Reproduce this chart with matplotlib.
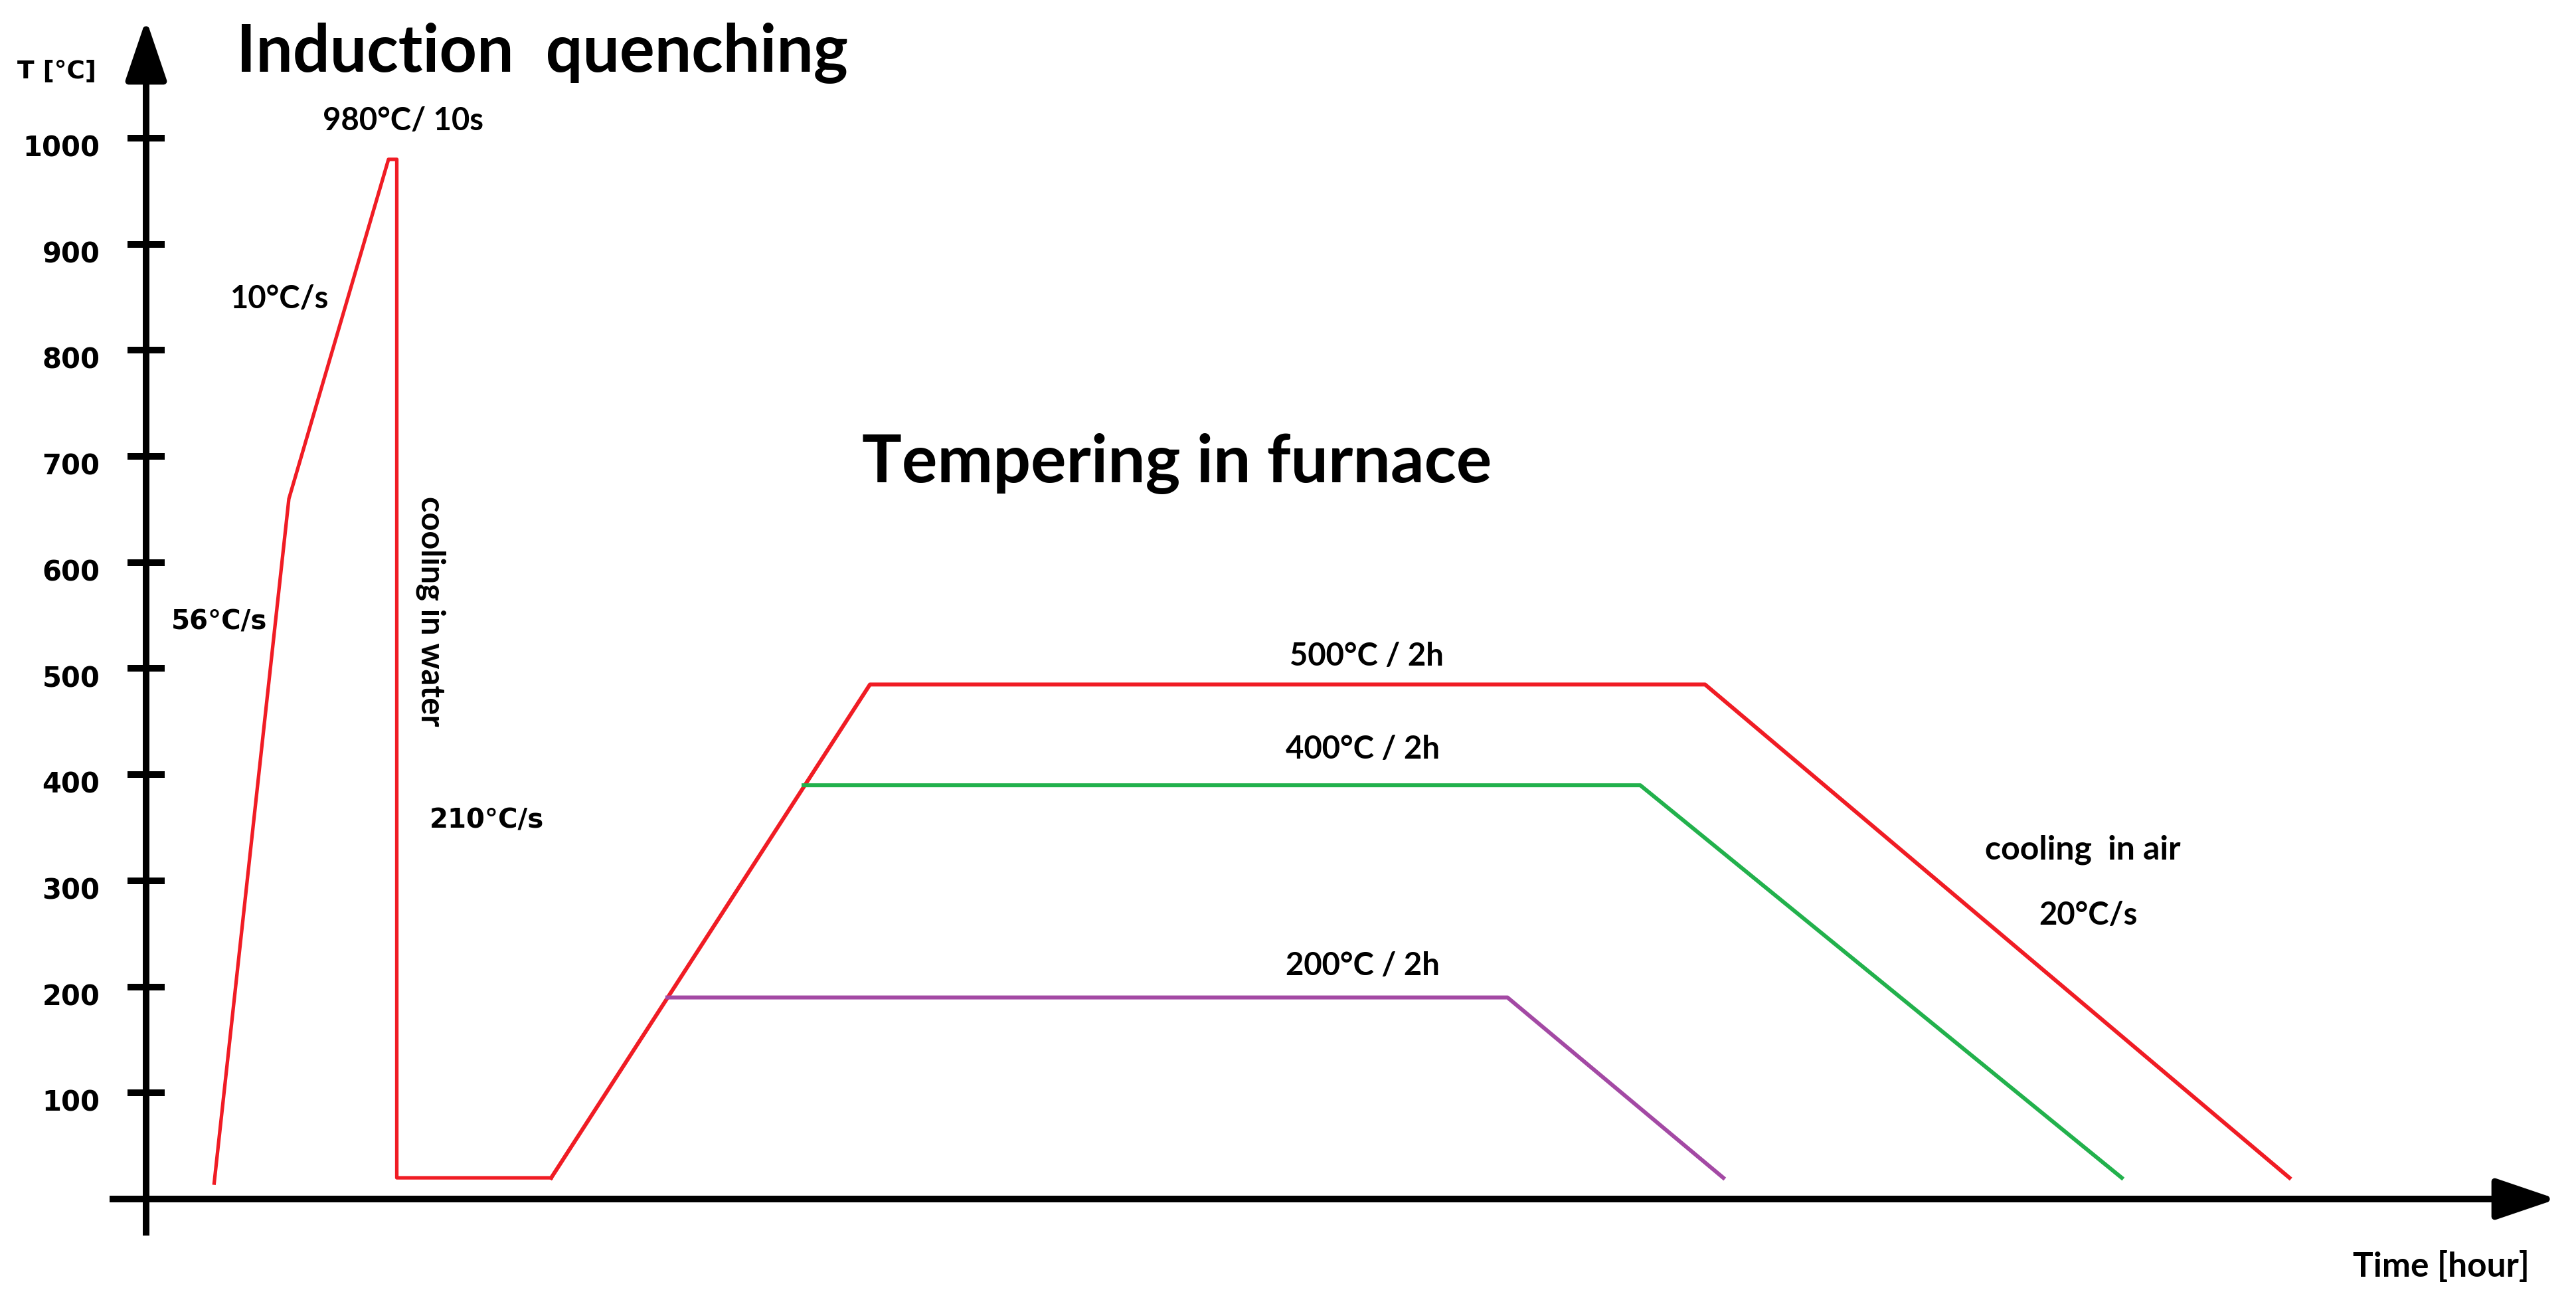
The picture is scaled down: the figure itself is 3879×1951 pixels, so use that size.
import matplotlib
matplotlib.use('Agg')
import matplotlib.pyplot as plt
from matplotlib.transforms import ScaledTranslation

# schematic heat treatment: time in arbitrary units, temperature in °C
quench_t = [0.41, 0.86, 1.46, 1.51, 1.51, 2.44, 4.36, 9.39, 12.91]
quench_T = [15, 660, 980, 980, 20, 20, 485, 485, 20]

green_t = [3.96, 9.0, 11.9]
green_T = [390, 390, 20]

purple_t = [3.14, 8.2, 9.5]
purple_T = [190, 190, 20]

yticks = [100, 200, 300, 400, 500, 600, 700, 800, 900, 1000]

W, H = 3880, 1951
fig = plt.figure(figsize=(W / 100, H / 100), dpi=100)
ax = fig.add_axes([0, 0, 1, 1])
ax.set_xlim(-0.88, 14.64)
ax.set_ylim(-91.4, 1130.2)
ax.set_facecolor('white')

red = '#f01c24'
ax.plot(quench_t[:6], quench_T[:6], color=red, lw=3.8)
ax.plot(quench_t[5:], quench_T[5:], color=red, lw=4.3)
ax.plot(green_t, green_T, color='#22b14c', lw=4.3)
ax.plot(purple_t, purple_T, color='#a349a4', lw=4.3)

# axes through the origin
ax.spines['top'].set_visible(False)
ax.spines['right'].set_visible(False)
ax.spines['left'].set_position(('data', 0))
ax.spines['bottom'].set_position(('data', 0))
ax.spines['left'].set_bounds(-31, 1080)
ax.spines['bottom'].set_bounds(-0.2, 14.3)
for s in ['left', 'bottom']:
    ax.spines[s].set_linewidth(7.2)
    ax.spines[s].set_zorder(5)

ax.set_xticks([])
ax.set_yticks(yticks)
ax.set_yticklabels([str(v) for v in yticks])
ax.tick_params(axis='y', direction='inout', length=40, width=7.2, pad=30,
               labelsize=30)
for lab in ax.get_yticklabels():
    lab.set_fontweight('bold')
    lab.set_family('DejaVu Sans')
    lab.set_transform(lab.get_transform() + ScaledTranslation(0, -8 / 72, fig.dpi_scale_trans))

# arrow heads
ax.annotate('', xy=(0, 1112), xytext=(0, 1060),
            arrowprops=dict(arrowstyle='-|>,head_length=5.6,head_width=1.9',
                            mutation_scale=10, color='black', lw=7.2,
                            shrinkA=0, shrinkB=0))
ax.annotate('', xy=(14.52, 0), xytext=(14.2, 0),
            arrowprops=dict(arrowstyle='-|>,head_length=5.6,head_width=1.9',
                            mutation_scale=10, color='black', lw=7.2,
                            shrinkA=0, shrinkB=0))


def txt(px, py, s, size, family='Lato', weight='bold', rot=0):
    fig.text(px / W, 1 - py / H, s, fontsize=size, family=family,
             fontweight=weight, ha='center', va='center', rotation=rot)


txt(86, 108, 'T [°C]', 27, family='DejaVu Sans')
txt(816, 80, 'Induction  quenching', 71)
txt(1772, 698, 'Tempering in furnace', 72)
txt(607, 182, '980°C/ 10s', 34)
txt(421, 450, '10°C/s', 34)
txt(330, 936, '56°C/s', 29, family='DejaVu Sans')
txt(733, 1235, '210°C/s', 29, family='DejaVu Sans')
txt(649, 920, 'cooling in water', 35, rot=-90)
txt(2058, 988, '500°C / 2h', 34)
txt(2052, 1128, '400°C / 2h', 34)
txt(2052, 1454, '200°C / 2h', 34)
txt(3136, 1279, 'cooling  in air', 36)
txt(3144, 1378, '20°C/s', 34)
txt(3676, 1907, 'Time [hour]', 37)

fig.savefig('out.png', dpi=100, facecolor='white')
